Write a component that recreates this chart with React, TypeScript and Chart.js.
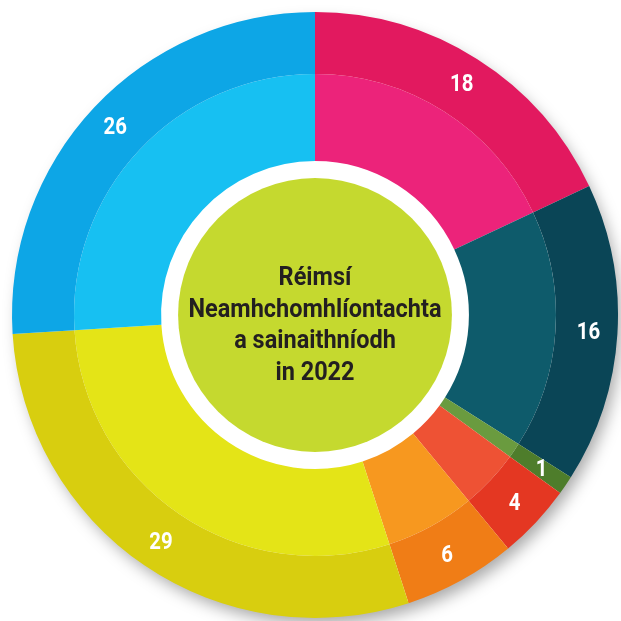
import React, { useEffect, useRef } from "react";
import { Chart, registerables } from "chart.js";

Chart.register(...registerables);

const categories = ["A", "B", "C", "D", "E", "F", "G"];
const values = [18, 16, 1, 4, 6, 29, 26];
const outerColors = ["#E2195F", "#0A4556", "#4E7D2B", "#E43722", "#F07D16", "#D8CE0F", "#0DA6E6"];
const innerColors = ["#EC237A", "#0E5B6B", "#6A9B3F", "#EE5234", "#F7981F", "#E4E417", "#17C0F2"];
const centerLines = ["Réimsí", "Neamhchomhlíontachta", "a sainaithníodh", "in 2022"];

const decorPlugin = {
  id: "decor",
  beforeDatasetsDraw(chart: any) {
    const meta = chart.getDatasetMeta(0);
    const arc = meta.data[0];
    if (!arc) return;
    const { x, y, outerRadius } = arc.getProps(["x", "y", "outerRadius"], true);
    const ctx = chart.ctx;
    ctx.save();
    ctx.shadowColor = "rgba(0,0,0,0.35)";
    ctx.shadowBlur = 16;
    ctx.shadowOffsetX = 5;
    ctx.shadowOffsetY = 8;
    ctx.fillStyle = "#ffffff";
    ctx.beginPath();
    ctx.arc(x, y, outerRadius - 2, 0, Math.PI * 2);
    ctx.fill();
    ctx.restore();
  },
  afterDatasetsDraw(chart: any) {
    const ctx = chart.ctx;
    const meta = chart.getDatasetMeta(0);
    const innerMeta = chart.getDatasetMeta(1);
    if (!meta.data.length) return;
    const first = meta.data[0].getProps(["x", "y"], true);
    const cx = first.x;
    const cy = first.y;
    const innerArc = innerMeta.data[0].getProps(["innerRadius"], true);
    // center green disc
    ctx.save();
    ctx.fillStyle = "#C5D92F";
    ctx.beginPath();
    ctx.arc(cx, cy, innerArc.innerRadius - 17, 0, Math.PI * 2);
    ctx.fill();
    ctx.restore();

    // value labels
    meta.data.forEach((el: any, i: number) => {
      const p = el.getProps(["startAngle", "endAngle", "innerRadius", "outerRadius"], true);
      const mid = (p.startAngle + p.endAngle) / 2;
      const r = (p.innerRadius + p.outerRadius) / 2 + 2;
      const lx = cx + Math.cos(mid) * r;
      const ly = cy + Math.sin(mid) * r;
      ctx.save();
      ctx.translate(lx, ly);
      ctx.scale(0.85, 1);
      ctx.fillStyle = "#ffffff";
      ctx.font = "bold 24px Roboto";
      ctx.textAlign = "center";
      ctx.textBaseline = "middle";
      ctx.fillText(String(values[i]), 0, 1);
      ctx.restore();
    });

    // center text
    ctx.save();
    ctx.fillStyle = "#231F20";
    ctx.font = "bold 25px Roboto";
    ctx.textAlign = "center";
    ctx.textBaseline = "alphabetic";
    const baselines = [-30, 2, 33, 65];
    centerLines.forEach((line, i) => {
      ctx.save();
      ctx.translate(cx, cy + baselines[i]);
      ctx.scale(0.94, 1);
      ctx.fillText(line, 0, 0);
      ctx.restore();
    });
    ctx.restore();
  },
};

export default function App() {
  const ref = useRef<HTMLCanvasElement | null>(null);
  useEffect(() => {
    if (!ref.current) return;
    const chart = new Chart(ref.current, {
      type: "doughnut",
      data: {
        labels: categories,
        datasets: [
          { data: values, backgroundColor: outerColors, borderWidth: 0, weight: 62 } as any,
          { data: values, backgroundColor: innerColors, borderWidth: 0, weight: 87 } as any,
        ],
      },
      options: {
        responsive: false,
        animation: false,
        cutout: "50.8%",
        layout: { padding: { left: 12, top: 12, right: 3, bottom: 3 } },
        plugins: {
          legend: { display: false },
          tooltip: { enabled: false },
        },
      } as any,
      plugins: [decorPlugin],
    });
    return () => chart.destroy();
  }, []);
  return (
    <div style={{ position: "absolute", left: 0, top: 0, width: 621, height: 621, background: "#fff" }}>
      <canvas ref={ref} width={621} height={621} style={{ display: "block" }} />
    </div>
  );
}
